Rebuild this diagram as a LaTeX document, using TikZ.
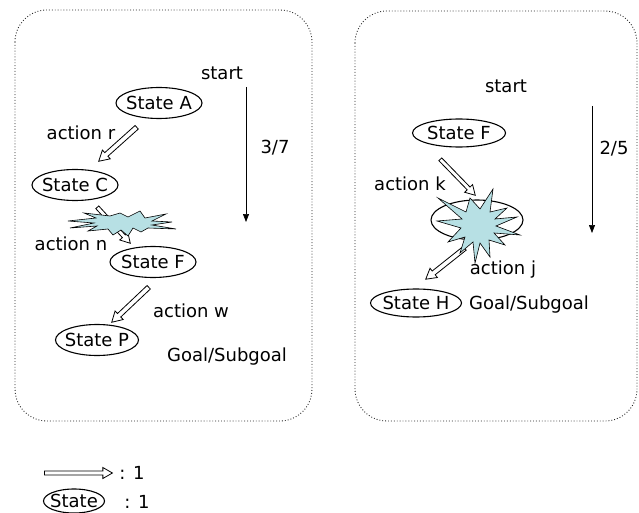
\documentclass[tikz,border=0pt]{standalone}
\usepackage{fontspec}
\setmainfont{DejaVu Sans}
\usetikzlibrary{shapes.geometric,shapes.arrows,arrows.meta,calc}
\definecolor{burstfill}{RGB}{183,224,228}
\tikzset{
  every node/.style={font=\fontsize{18}{21}\selectfont},
  frame/.style={draw=black!85, dotted, line width=0.9pt, rounded corners=32pt},
  stateell/.style={draw, ellipse, line width=1.1pt, inner xsep=-6pt, inner ysep=0pt, minimum width=86pt, minimum height=31pt},
  txt/.style={inner sep=0pt},
  hollow/.style={draw, line width=0.8pt, single arrow, fill=white, inner xsep=0pt, inner ysep=2pt,
    minimum width=11pt, single arrow head extend=3.5pt, single arrow tip angle=60, anchor=tail},
  burst/.style={draw, line width=0.6pt, fill=burstfill},
  flow/.style={draw, line width=0.7pt, -{Triangle[length=8pt,width=6pt]}}
}
\newcommand\hollowarrow[4][]{%
  \path let \p1=($(#4)-(#3)$) in
    node[hollow,#1, minimum height={veclen(\x1,\y1)}, rotate={atan2(\y1,\x1)}] (#2) at (#3) {};}
\begin{document}
\begin{tikzpicture}[x=1pt,y=-1pt]
\useasboundingbox (0,0) rectangle (639,513);
% frames
\draw[frame] (15,10) rectangle (312,421);
\draw[frame] (355,11) rectangle (637,421);

% ---------- left panel ----------
\node[txt] (start1) at (222,73) {start};
\node[stateell] (stA) at (159,103) {State A};
\node[txt] (actr) at (81,133) {action r};
\node[stateell] (stC) at (75,185) {State C};
\node[txt] (actn) at (71,244) {action n};
\node[stateell] (stF1) at (153,262) {State F};
\node[txt] (actw) at (191,311) {action w};
\node[stateell, minimum width=83pt] (stP) at (97,340) {State P};
\node[txt] (goal1) at (227,357) {Goal/Subgoal};
\node[txt] (frac1) at (275,148) {3/7};
\coordinate (v1a) at (246,87);
\coordinate (v1b) at (246,222);
\draw[flow] (v1a) -- (v1b);

\coordinate (ra) at (137,127);
\coordinate (rb) at (99,161);
\hollowarrow{arrR}{ra}{rb}
\coordinate (na) at (97,207);
\coordinate (nb) at (130,243);
\hollowarrow[inner ysep=1.6pt, minimum width=9pt]{arrN}{na}{nb}
\coordinate (wa) at (149,287);
\coordinate (wb) at (112,322);
\hollowarrow{arrW}{wa}{wb}

\draw[burst] (68,221) -- (96,218) -- (84,213) -- (110,216) -- (120,213) -- (128,217)
  -- (140,211) -- (145,218) -- (166,214) -- (152,221) -- (172,222) -- (152,225)
  -- (176,229) -- (148,228) -- (141,232) -- (133,228) -- (128,236) -- (121,230)
  -- (113,235) -- (108,229) -- (88,231) -- (97,226) -- (70,228) -- (94,223) -- cycle;

% ---------- right panel ----------
\node[txt] (start2) at (506,86) {start};
\node[stateell, minimum width=93pt, minimum height=28pt] (stF2) at (459,133) {State F};
\node[txt] (actk) at (410,184) {action k};
\node[stateell, minimum width=92pt, minimum height=40pt] (hid) at (477,220) {};
\node[stateell, minimum width=91pt, minimum height=28pt] (stH) at (416,303) {State H};
\node[txt] (goal2) at (529,305) {Goal/Subgoal};
\node[txt] (frac2) at (614,149) {2/5};
\coordinate (v2a) at (592,106);
\coordinate (v2b) at (592,233);
\draw[flow] (v2a) -- (v2b);

\coordinate (ka) at (440,159);
\coordinate (kb) at (475,195);
\hollowarrow[inner ysep=1.6pt, minimum width=9pt]{arrK}{ka}{kb}
\coordinate (ja) at (465,248);
\coordinate (jb) at (426,279);
\hollowarrow{arrJ}{ja}{jb}

\draw[burst] (438,198) -- (466,212) -- (470,198) -- (480,209) -- (493,189) -- (490,212)
  -- (507,208) -- (495,219) -- (517,217) -- (496,226) -- (520,235) -- (494,233)
  -- (505,245) -- (489,240) -- (490,257) -- (480,243) -- (475,263) -- (473,242)
  -- (460,253) -- (465,237) -- (448,242) -- (461,228) -- (437,221) -- (462,219) -- cycle;
\node[txt] (actj) at (503,270) {action j};

% ---------- legend ----------
\coordinate (la) at (44,473);
\coordinate (lb) at (112,473);
\hollowarrow[inner ysep=1.6pt, minimum width=9pt]{legArr}{la}{lb}
\node[txt] (leg1) at (132,473) {: 1};
\node[stateell, minimum width=61pt, minimum height=24pt] (legEll) at (74,501) {State};
\node[txt] (leg2) at (137,502) {: 1};
\end{tikzpicture}
\end{document}
